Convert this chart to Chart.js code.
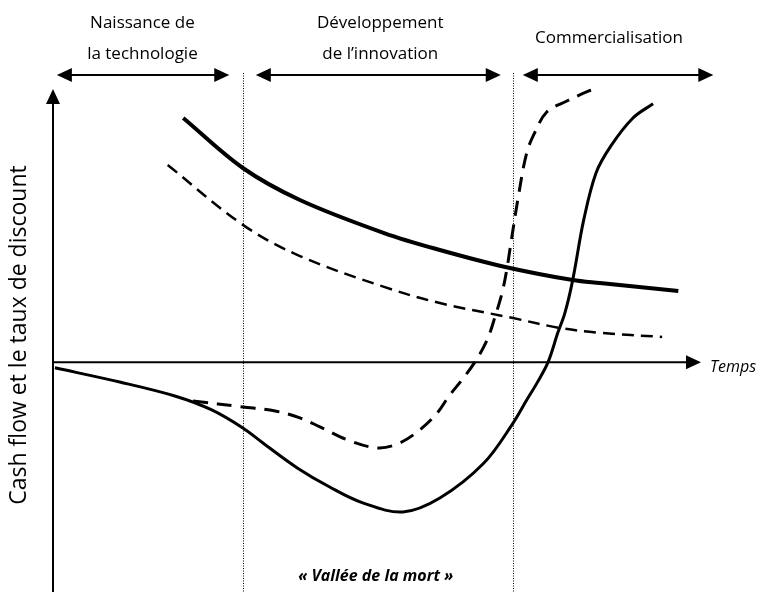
<!DOCTYPE html>
<html lang="fr">
<head>
<meta charset="utf-8">
<title>Vallée de la mort</title>
<script src="https://cdn.jsdelivr.net/npm/chart.js@4.4.1/dist/chart.umd.min.js"></script>
<style>
    html, body { margin: 0; padding: 0; background: #fff; }
    #wrap { width: 768px; height: 592px; position: relative; }
</style>
</head>
<body>
<div id="wrap"><canvas id="chart"></canvas></div>
<script>
// Time on x (0-100), cash flow / discount rate on y (arbitrary units, 0 = time axis)
const RATE_HIGH_T = [20.1, 29.3, 38.1, 51.1, 59.7, 69.8, 80.2, 84.4, 96.5];
const RATE_HIGH_V = [89.4, 71.1, 59.4, 47.3, 41.1, 34.9, 30.1, 29.0, 26.1];

const RATE_LOW_T = [17.7, 29.3, 38.1, 51.1, 59.7, 71.0, 78.2, 84.4, 94.0];
const RATE_LOW_V = [72.2, 50.3, 38.9, 27.6, 21.7, 16.2, 12.6, 10.8, 9.3];

const CASH_T = [0.3, 10.3, 18.8, 24.5, 29.3, 32.4, 37.7, 42.7, 47.8, 54.0, 59.7, 66.5, 71.0, 73.1, 74.7, 76.4, 77.9, 79.0, 80.2, 81.9, 83.8, 86.1, 89.5, 92.6];
const CASH_V = [-2.0, -7.2, -12.3, -17.4, -24.0, -29.5, -38.6, -45.6, -51.4, -54.7, -49.6, -36.8, -22.2, -13.8, -7.5, 0.1, 10.8, 18.1, 30.1, 52.1, 69.3, 79.2, 89.4, 94.6];

const CASH_FAST_T = [21.6, 29.3, 34.3, 38.1, 41.2, 45.8, 50.2, 53.5, 56.6, 59.3, 61.0, 63.1, 65.1, 67.0, 68.2, 69.3, 70.1, 70.5, 71.8, 73.1, 74.4, 76.2, 79.3, 82.7, 83.8];
const CASH_FAST_V = [-14.1, -16.3, -17.8, -20.3, -23.6, -28.7, -31.3, -29.5, -24.7, -18.5, -12.7, -6.4, 0.1, 8.2, 16.6, 25.4, 34.9, 41.1, 60.5, 76.6, 84.3, 91.6, 95.6, 99.3, 100.0];

const PHASE_BOUNDS = [29.3, 71.0];
const PHASE_ARROWS = [[0.6, 27.2], [31.3, 69.1], [72.5, 101.9]];
const PHASE_LABELS = [
    ['Naissance de', 'la technologie'],
    ['Développement', 'de l\u2019innovation'],
    ['Commercialisation']
];
const PHASE_LABEL_T = [13.8, 50.5, 85.8];
const Y_TITLE = 'Cash flow et le taux de discount';
const X_TITLE = 'Temps';
const VALLEY_LABEL = '\u00ab Vallée de la mort \u00bb';

const FONT = '"Open Sans", "DejaVu Sans", sans-serif';

function pts(ts, vs) {
    return ts.map((t, i) => ({ x: t, y: vs[i] }));
}

function arrowHead(ctx, x, y, dir, len, half) {
    // dir: 'right' | 'left' | 'up'
    ctx.beginPath();
    if (dir === 'right') {
        ctx.moveTo(x, y); ctx.lineTo(x - len, y - half); ctx.lineTo(x - len, y + half);
    } else if (dir === 'left') {
        ctx.moveTo(x, y); ctx.lineTo(x + len, y - half); ctx.lineTo(x + len, y + half);
    } else {
        ctx.moveTo(x, y); ctx.lineTo(x - half, y + len); ctx.lineTo(x + half, y + len);
    }
    ctx.closePath();
    ctx.fill();
}

const diagram = {
    id: 'diagram',
    beforeDatasetsDraw(chart) {
        const { ctx, chartArea, scales } = chart;
        const xs = scales.x, ys = scales.y;
        const x0 = xs.getPixelForValue(0);
        const y0 = ys.getPixelForValue(0);
        ctx.save();
        ctx.fillStyle = '#000';
        ctx.strokeStyle = '#000';

        // phase boundaries
        ctx.lineWidth = 1;
        ctx.setLineDash([1, 1.5]);
        PHASE_BOUNDS.forEach(t => {
            const px = Math.round(xs.getPixelForValue(t)) + 0.5;
            ctx.beginPath();
            ctx.moveTo(px, chartArea.top - 16);
            ctx.lineTo(px, chartArea.bottom);
            ctx.stroke();
        });
        ctx.setLineDash([]);

        // axes
        ctx.lineWidth = 2;
        ctx.beginPath();
        ctx.moveTo(x0, chartArea.bottom);
        ctx.lineTo(x0, chartArea.top + 10);
        ctx.moveTo(x0, y0);
        ctx.lineTo(chartArea.right - 10, y0);
        ctx.stroke();
        arrowHead(ctx, x0, chartArea.top, 'up', 15, 7);
        arrowHead(ctx, chartArea.right, y0, 'right', 15, 7);

        // phase arrows
        const ay = chartArea.top - 14;
        PHASE_ARROWS.forEach(([a, b]) => {
            const pa = xs.getPixelForValue(a), pb = xs.getPixelForValue(b);
            ctx.beginPath();
            ctx.moveTo(pa + 10, ay);
            ctx.lineTo(pb - 10, ay);
            ctx.stroke();
            arrowHead(ctx, pa, ay, 'left', 15, 7);
            arrowHead(ctx, pb, ay, 'right', 15, 7);
        });
        ctx.restore();
    },
    afterDraw(chart) {
        const { ctx, chartArea, scales } = chart;
        const xs = scales.x, ys = scales.y;
        ctx.save();
        ctx.fillStyle = '#000';
        ctx.textAlign = 'center';
        ctx.textBaseline = 'middle';

        ctx.font = '17px ' + FONT;
        PHASE_LABELS.forEach((lines, i) => {
            const cx = xs.getPixelForValue(PHASE_LABEL_T[i]);
            if (lines.length === 1) {
                ctx.fillText(lines[0], cx, 38);
            } else {
                ctx.fillText(lines[0], cx, 23);
                ctx.fillText(lines[1], cx, 54);
            }
        });

        ctx.font = 'italic 16px ' + FONT;
        ctx.textAlign = 'left';
        ctx.fillText(X_TITLE, chartArea.right + 9, ys.getPixelForValue(0) + 5);

        ctx.textAlign = 'center';
        ctx.font = 'bold italic 16px ' + FONT;
        ctx.fillText(VALLEY_LABEL, xs.getPixelForValue(49.8), chartArea.bottom - 16);

        ctx.font = '23px ' + FONT;
        ctx.translate(19, 335);
        ctx.rotate(-Math.PI / 2);
        ctx.fillText(Y_TITLE, 0, 0);
        ctx.restore();
    }
};

new Chart(document.getElementById('chart'), {
    type: 'line',
    data: {
        datasets: [
            {
                data: pts(RATE_HIGH_T, RATE_HIGH_V),
                borderColor: '#000',
                borderWidth: 4
            },
            {
                data: pts(RATE_LOW_T, RATE_LOW_V),
                borderColor: '#000',
                borderWidth: 2.5,
                borderDash: [12, 7]
            },
            {
                data: pts(CASH_T, CASH_V),
                borderColor: '#000',
                borderWidth: 3
            },
            {
                data: pts(CASH_FAST_T, CASH_FAST_V),
                borderColor: '#000',
                borderWidth: 3,
                borderDash: [15, 9]
            }
        ]
    },
    options: {
        responsive: true,
        maintainAspectRatio: false,
        animation: false,
        clip: false,
        layout: { padding: { left: 53, right: 67, top: 89, bottom: 0 } },
        elements: {
            point: { radius: 0 },
            line: { fill: false, tension: 0.35 }
        },
        plugins: { legend: { display: false }, tooltip: { enabled: false } },
        scales: {
            x: { type: 'linear', min: 0, max: 100, display: false },
            y: { type: 'linear', min: -84, max: 100, display: false }
        }
    },
    plugins: [diagram]
});
</script>
</body>
</html>
